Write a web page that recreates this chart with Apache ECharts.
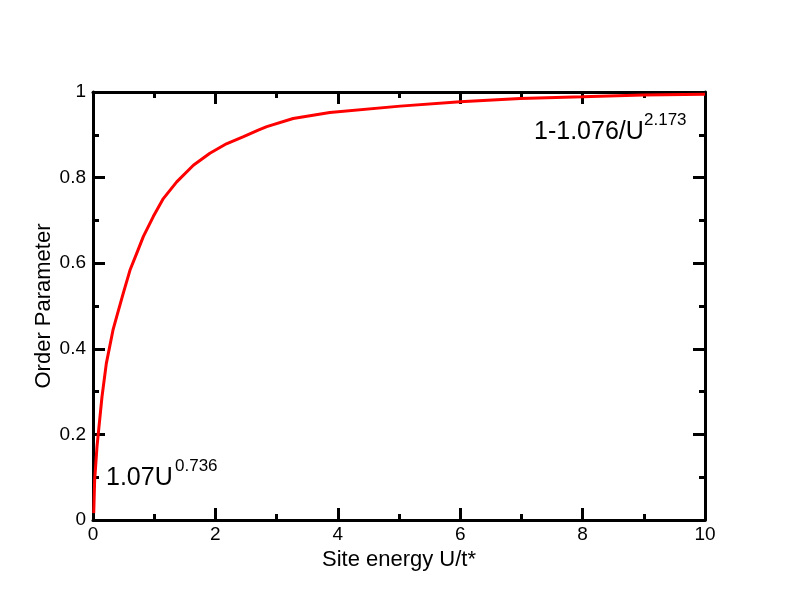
<!DOCTYPE html>
<html>
<head>
<meta charset="utf-8">
<script src="https://cdn.jsdelivr.net/npm/echarts@6/dist/echarts.min.js"></script>
<style>
html,body{margin:0;padding:0;background:#fff;}
#chart{width:792px;height:612px;}
</style>
</head>
<body>
<div id="chart"></div>
<script>
// Data
var siteEnergy = [0.012, 0.027, 0.065, 0.098, 0.147, 0.218, 0.327, 0.387, 0.495, 0.605, 0.714, 0.822, 0.985, 1.149, 1.368, 1.64, 1.91, 2.18, 2.46, 2.70, 2.84, 3.27, 3.87, 5.02, 6.0, 6.98, 8.0, 8.99, 10];
var orderParameter = [0.016, 0.093, 0.171, 0.218, 0.288, 0.366, 0.444, 0.475, 0.530, 0.584, 0.623, 0.662, 0.709, 0.751, 0.790, 0.829, 0.857, 0.879, 0.896, 0.911, 0.919, 0.938, 0.952, 0.967, 0.977, 0.985, 0.989, 0.993, 0.995];
var xTitle = 'Site energy U/t*';
var yTitle = 'Order Parameter';
var lowFit = ['1.07U', '0.736'];
var highFit = ['1-1.076/U', '2.173'];

var FONT = '"Liberation Sans", Arial, Helvetica, sans-serif';
var pts = siteEnergy.map(function (u, i) { return [u, orderParameter[i]]; });

function axisBase(showLabel, extra) {
  var a = {
    type: 'value',
    axisLine: { show: true, onZero: false, lineStyle: { color: '#000', width: 3 } },
    axisTick: { show: true, inside: true, length: 12, lineStyle: { color: '#000', width: 3 } },
    minorTick: { show: true, splitNumber: 2, length: 6, lineStyle: { color: '#000', width: 3 } },
    splitLine: { show: false },
    minorSplitLine: { show: false },
    axisLabel: { show: showLabel, color: '#000', fontSize: 19, fontFamily: FONT }
  };
  for (var k in extra) a[k] = extra[k];
  return a;
}

var chart = echarts.init(document.getElementById('chart'), null, { renderer: 'canvas' });
var xb = axisBase(true, { position: 'bottom', min: 0, max: 10, interval: 2,
  name: xTitle, nameLocation: 'middle', nameGap: 27,
  nameTextStyle: { color: '#000', fontSize: 22, fontFamily: FONT } });
xb.axisLabel.margin = 5;
var xt = axisBase(false, { position: 'top', min: 0, max: 10, interval: 2 });
var yl = axisBase(true, { position: 'left', min: 0, max: 1, interval: 0.2 });
yl.axisLabel.margin = 7;
var yr = axisBase(false, { position: 'right', min: 0, max: 1, interval: 0.2 });

function txt(x, y, s, size, align, rot) {
  return { type: 'text', x: x, y: y, z: 100, rotation: rot || 0,
    style: { text: s, fill: '#000', font: size + 'px ' + FONT,
      align: align || 'left', verticalAlign: 'middle',
      textAlign: align || 'left', textVerticalAlign: 'middle' } };
}

chart.setOption({
  backgroundColor: '#fff',
  animation: false,
  grid: { left: 93, right: 87, top: 92, bottom: 92, containLabel: false },
  xAxis: [xb, xt],
  yAxis: [yl, yr],
  series: [{
    type: 'line', xAxisIndex: 0, yAxisIndex: 0,
    data: pts, showSymbol: false, smooth: false,
    lineStyle: { color: '#ff0000', width: 3 }, z: 3
  }],
  graphic: [
    txt(44, 306, yTitle, 22, 'center', Math.PI / 2),
    txt(106, 478, lowFit[0], 25),
    txt(175, 466, lowFit[1], 17),
    txt(534, 132, highFit[0], 25),
    txt(644, 120, highFit[1], 17)
  ]
});
</script>
</body>
</html>
